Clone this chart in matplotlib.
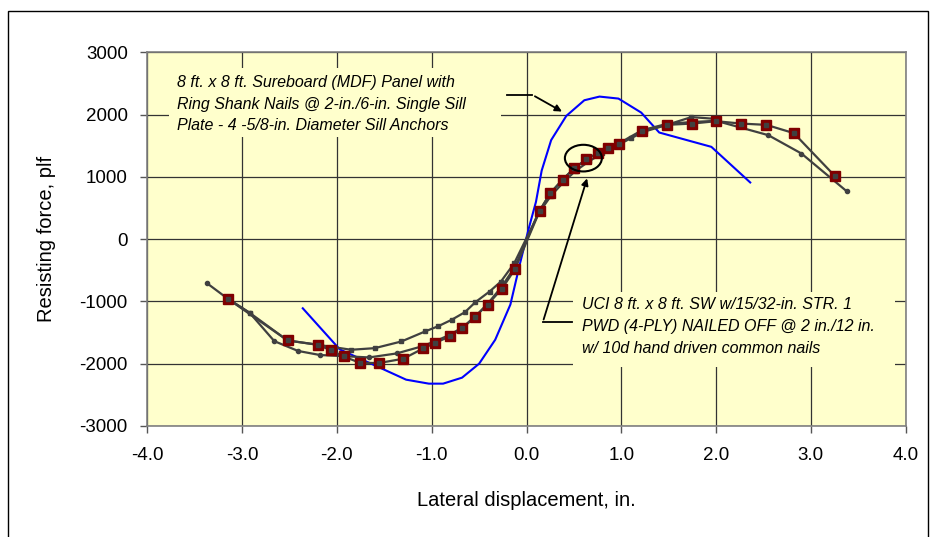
import matplotlib
matplotlib.use("Agg")
import matplotlib.pyplot as plt
from matplotlib.patches import Ellipse, Rectangle

plt.rcParams['font.family'] = ['Liberation Sans', 'DejaVu Sans']
plt.rcParams['axes.unicode_minus'] = False

# blue curve - Sureboard (MDF) panel
blue_x = [-2.36, -1.97, -1.71, -1.48, -1.27, -1.03, -0.88, -0.68, -0.50, -0.33, -0.17, -0.07,
          0.02, 0.10, 0.16, 0.26, 0.42, 0.61, 0.77, 0.97, 1.21, 1.40, 1.95, 2.36]
blue_y = [-1110, -1770, -1950, -2110, -2256, -2320, -2320, -2224, -2000, -1615, -1050, -400,
          150, 600, 1100, 1590, 1979, 2230, 2289, 2257, 2032, 1712, 1482, 910]

# UCI test, red square series
red_x = [-3.15, -2.52, -2.20, -2.06, -1.93, -1.76, -1.56, -1.30, -1.09, -0.96, -0.81, -0.68,
         -0.54, -0.41, -0.26, -0.12, 0.14, 0.25, 0.38, 0.50, 0.63, 0.75, 0.86, 0.98, 1.22,
         1.48, 1.75, 2.00, 2.26, 2.53, 2.82, 3.25]
red_y = [-958, -1627, -1696, -1787, -1883, -1984, -1990, -1920, -1755, -1663, -1563, -1434,
         -1242, -1050, -798, -478, 457, 740, 954, 1135, 1279, 1381, 1466, 1526, 1739,
         1835, 1856, 1894, 1856, 1835, 1702, 1018]

# gray series with small square markers
up_x = [-3.15, -2.92, -2.52, -2.20, -1.85, -1.60, -1.32, -1.07, -0.93, -0.79, -0.65, -0.54,
        -0.39, -0.27, -0.13, 0.13, 0.26, 0.40, 0.52, 0.66, 0.80, 0.95, 1.10, 1.25, 1.45,
        1.74, 2.00]
up_y = [-958, -1183, -1627, -1696, -1776, -1750, -1643, -1482, -1397, -1295, -1173, -1013,
        -841, -681, -388, 420, 700, 930, 1100, 1250, 1380, 1500, 1620, 1730, 1820,
        1960, 1930]

# gray series with small dots
mid_x = [-3.37, -3.15, -2.92, -2.66, -2.41, -2.18, -1.66, -1.37, -1.10, -0.95, -0.80, -0.66,
         -0.52, -0.40, -0.26, -0.12, 0.13, 0.25, 0.37, 0.50, 0.62, 0.74, 0.86, 1.00, 1.22,
         1.48, 1.74, 2.00, 2.55, 2.90, 3.38]
mid_y = [-708, -958, -1183, -1638, -1795, -1860, -1899, -1835, -1720, -1630, -1530, -1400,
         -1210, -1020, -760, -440, 440, 730, 940, 1130, 1270, 1370, 1460, 1560, 1750,
         1850, 1880, 1900, 1670, 1375, 766]

x_ticks = [-4, -3, -2, -1, 0, 1, 2, 3, 4]
y_ticks = [-3000, -2000, -1000, 0, 1000, 2000, 3000]

note1 = ["8 ft. x 8 ft. Sureboard (MDF) Panel with",
         "Ring Shank Nails @ 2-in./6-in. Single Sill",
         "Plate - 4 -5/8-in. Diameter Sill Anchors"]
note1_y = [2513, 2167, 1819]
note2 = ["UCI 8 ft. x 8 ft. SW w/15/32-in. STR. 1",
         "PWD (4-PLY) NAILED OFF @ 2 in./12 in.",
         "w/ 10d hand driven common nails"]
note2_y = [-1050, -1402, -1760]

fig = plt.figure(figsize=(9.34, 5.37), dpi=100)
ax = fig.add_axes([147.3 / 934, 1 - 426 / 537, (905.7 - 147.3) / 934, (426 - 52.3) / 537])
ax.set_facecolor('#FFFFCC')

# outer frame of the chart
fig.patches.append(Rectangle((8 / 934, -0.05), (928 - 8) / 934, 1.05 - 11.5 / 537,
                             transform=fig.transFigure, fill=False, ec='black', lw=1.0))

ax.set_xlim(-4, 4)
ax.set_ylim(-3000, 3000)
ax.set_xticks(x_ticks)
ax.set_xticklabels(['%.1f' % v for v in x_ticks])
ax.set_yticks(y_ticks)
ax.grid(True, color='#333333', lw=0.9)
ax.set_axisbelow(True)
for s in ax.spines.values():
    s.set_color('#808080')
    s.set_linewidth(1.2)
ax.tick_params(direction='out', length=5, width=1, color='#555555', labelsize=13.5)
ax.tick_params(axis='x', pad=10)
ax.tick_params(axis='y', pad=9)

ax.plot(blue_x, blue_y, color='#0000FF', lw=1.5, zorder=3)
ax.plot(up_x, up_y, color='#404040', lw=1.6, marker='s', ms=3, zorder=4)
ax.plot(mid_x, mid_y, color='#404040', lw=1.6, marker='o', ms=3, zorder=4)
ax.plot(red_x, red_y, color='#404040', lw=1.6, marker='s', ms=7.5, mfc='#800000', mec='#800000',
        zorder=5)
ax.plot(red_x, red_y, ls='none', marker='s', ms=3.5, color='#404040', zorder=6)

ax.set_xlabel('Lateral displacement, in.', fontsize=14.5)
ax.set_ylabel('Resisting force, plf', fontsize=14.5)
ax.xaxis.set_label_coords(0.5, -(500 - 426) / 373.7)
ax.yaxis.set_label_coords((47 - 147.3) / 758.4, 0.5)
ax.xaxis.label.set_va('center')
ax.yaxis.label.set_va('center')

# text notes with background boxes hiding the grid
ax.add_patch(Rectangle((-3.77, 1640), 3.5, 1100, fc='#FFFFCC', ec='none', zorder=2))
for line, yy in zip(note1, note1_y):
    ax.text(-3.69, yy, line, style='italic', fontsize=11.5, va='center', ha='left', zorder=7)
ax.add_patch(Rectangle((0.49, -2050), 3.4, 1197, fc='#FFFFCC', ec='none', zorder=2))
for line, yy in zip(note2, note2_y):
    ax.text(0.585, yy, line, style='italic', fontsize=11.5, va='center', ha='left', zorder=7)

# arrow pointing at the blue curve
ax.plot([-0.21, 0.063], [2316, 2316], color='black', lw=1.3, zorder=7)
ax.annotate('', xy=(0.40, 2027), xytext=(0.063, 2316),
            arrowprops=dict(arrowstyle='-|>', color='black', lw=1.3, mutation_scale=10),
            zorder=7)

# arrow and ellipse for the UCI curve
ax.plot([0.483, 0.172], [-1333, -1333], color='black', lw=1.3, zorder=7)
ax.annotate('', xy=(0.648, 1018), xytext=(0.172, -1333),
            arrowprops=dict(arrowstyle='-|>', color='black', lw=1.3, mutation_scale=10),
            zorder=7)
ax.add_patch(Ellipse((0.60, 1301), 0.39, 428, fill=False, ec='black', lw=1.5, zorder=7))

fig.savefig('out.png', dpi=100)
